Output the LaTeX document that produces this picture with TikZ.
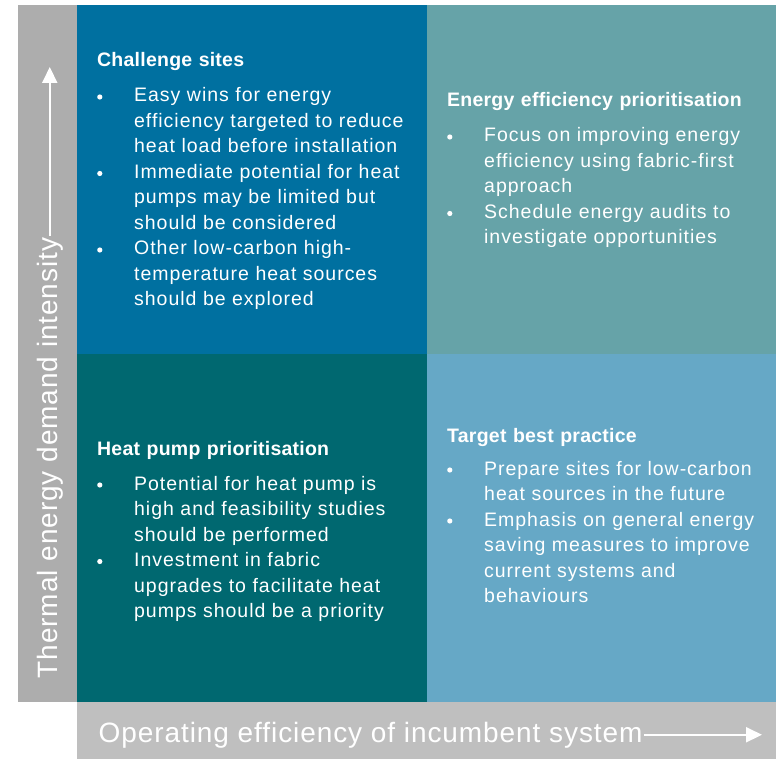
\documentclass[tikz,border=0pt]{standalone}
\usepackage{fontspec}
\setmainfont{Liberation Sans}
\newfontfamily\qfont{Liberation Sans}[LetterSpace=5]
\newfontfamily\qtitlefont{Liberation Sans}[LetterSpace=1.2]
\newfontfamily\axfont{Liberation Sans}[LetterSpace=3.3]
\usetikzlibrary{arrows.meta,positioning}
\definecolor{chalBlue}{RGB}{  0,112,160}
\definecolor{effTeal}{RGB}{102,163,168}
\definecolor{hpTeal}{RGB}{  0,104,112}
\definecolor{bestBlue}{RGB}{102,168,198}
\definecolor{yGray}{RGB}{173,173,173}
\definecolor{xGray}{RGB}{191,191,191}
\setlength{\parskip}{0pt}
% one bullet point with hanging indent
\newcommand{\qbul}[1]{\par\noindent\hangindent=37pt\hangafter=1%
  \makebox[37pt][l]{\tikz[baseline=0pt]\fill[white] (3pt,5pt) circle[radius=2.6pt];}#1\par}
\newcommand{\qttl}[1]{{\qtitlefont\bfseries #1}\par}

\begin{document}
\begin{tikzpicture}[
  x=1pt, y=-1pt,
  quad/.style={draw=none, inner sep=0pt, anchor=north west},
  qtxt/.style={text=white, text width=340pt, align=left, inner sep=0pt,
               anchor=base west, font=\qfont\fontsize{19.5}{25.5}\selectfont},
  axlbl/.style={text=white, inner sep=1.5pt, font=\axfont\fontsize{28}{30}\selectfont},
  axarr/.style={color=white, line width=2pt, -{Triangle[length=16pt,width=15pt]}},
]
\useasboundingbox (0,0) rectangle (778,759);

% ============ axis bars ============
\node[quad, fill=yGray, minimum width=59pt, minimum height=697pt] (ybar) at (18,5) {};
\node[quad, fill=xGray, minimum width=699pt, minimum height=57pt] (xbar) at (77,702) {};

% ============ quadrants ============
\node[quad, fill=chalBlue, minimum width=350pt, minimum height=349pt] (chal) at (77,5) {};
\node[quad, fill=effTeal,  minimum width=349pt, minimum height=349pt] (eff)  at (427,5) {};
\node[quad, fill=hpTeal,   minimum width=350pt, minimum height=348pt] (hp)   at (77,354) {};
\node[quad, fill=bestBlue, minimum width=349pt, minimum height=348pt] (best) at (427,354) {};

% ============ quadrant texts ============
\node[qtxt] (chaltxt) at (97,67)
  {\qttl{Challenge sites}\vspace{9.5pt}
   \qbul{Easy wins for energy\newline efficiency targeted to reduce\newline heat load before installation}
   \qbul{Immediate potential for heat\newline pumps may be limited but\newline should be considered}
   \qbul{Other low-carbon high-\newline temperature heat sources\newline should be explored}};
\node[qtxt] (efftxt) at (447,107)
  {\qttl{Energy efficiency prioritisation}\vspace{9.5pt}
   \qbul{Focus on improving energy\newline efficiency using fabric-first\newline approach}
   \qbul{Schedule energy audits to\newline investigate opportunities}};
\node[qtxt] (hptxt) at (97,455)
  {\qttl{Heat pump prioritisation}\vspace{9.5pt}
   \qbul{Potential for heat pump is\newline high and feasibility studies\newline should be performed}
   \qbul{Investment in fabric\newline upgrades to facilitate heat\newline pumps should be a priority}};
\node[qtxt] (besttxt) at (447,442)
  {\qttl{Target best practice}\vspace{7.5pt}
   \qbul{Prepare sites for low-carbon\newline heat sources in the future}
   \qbul{Emphasis on general energy\newline saving measures to improve\newline current systems and\newline behaviours}};

% ============ axis labels and arrows ============
\node[axlbl, anchor=base west] (xlbl) at (97,742) {Operating efficiency of incumbent system};
\coordinate (xend) at (762,0);
\draw[axarr] (xlbl) -- (xlbl -| xend);

\node[axlbl, rotate=90, anchor=base west] (ylbl) at (57,680) {Thermal energy demand intensity};
\coordinate (yend) at (0,67);
\draw[axarr] (ylbl) -- (ylbl |- yend);

\end{tikzpicture}
\end{document}
